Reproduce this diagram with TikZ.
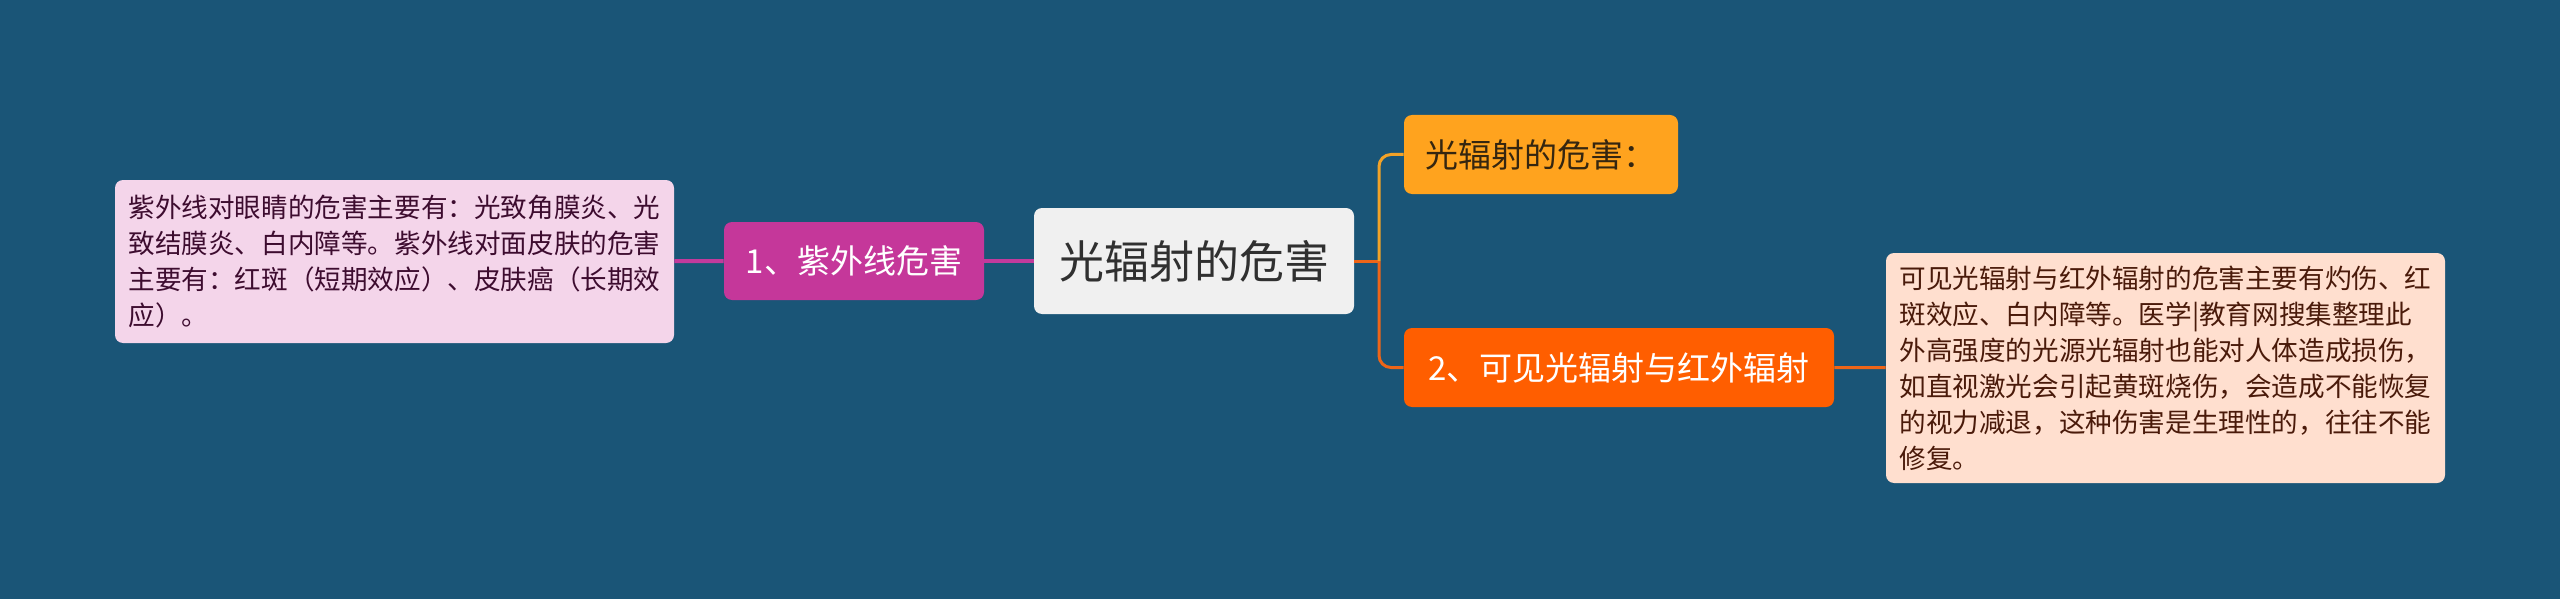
\documentclass[tikz,border=0pt]{standalone}
\usepackage{fontspec}
\setmainfont{Noto Sans CJK SC}
\definecolor{bgblue}{HTML}{1A5577}
\definecolor{rootgray}{HTML}{F0F0F0}
\definecolor{rootink}{HTML}{303030}
\definecolor{uvpurple}{HTML}{C5379A}
\definecolor{uvline}{HTML}{C23A9C}
\definecolor{uvpink}{HTML}{F4D5EA}
\definecolor{uvink}{HTML}{3D0C2F}
\definecolor{harmamber}{HTML}{FFA31E}
\definecolor{harmline}{HTML}{F2A227}
\definecolor{harmink}{HTML}{352610}
\definecolor{visorange}{HTML}{FF5E00}
\definecolor{visline}{HTML}{EE6518}
\definecolor{vispeach}{HTML}{FFDFCF}
\definecolor{visink}{HTML}{4A1A0A}
\tikzstyle{topic}=[rectangle, rounded corners=4pt, inner sep=0pt, align=center]
\tikzstyle{rootbox}=[topic, fill=rootgray, text=rootink, minimum width=160pt, minimum height=53pt, font=\fontsize{22.5}{27}\selectfont]
\tikzstyle{uvbox}=[topic, fill=uvpurple, text=white, minimum width=130pt, minimum height=39pt, font=\fontsize{16.5}{20}\selectfont]
\tikzstyle{harmbox}=[topic, fill=harmamber, text=harmink, minimum width=137pt, minimum height=39.5pt, font=\fontsize{16.5}{20}\selectfont]
\tikzstyle{visbox}=[topic, fill=visorange, text=white, minimum width=215pt, minimum height=39.5pt, font=\fontsize{16.5}{20}\selectfont]
\tikzstyle{leaf}=[topic, align=left, minimum width=279.5pt, font=\fontsize{13.3}{18}\selectfont]
\tikzstyle{uvleaf}=[leaf, fill=uvpink, text=uvink, minimum height=81.5pt]
\tikzstyle{visleaf}=[leaf, fill=vispeach, text=visink, minimum height=115pt]
\begin{document}
\begin{tikzpicture}[x=0.5pt,y=-0.5pt]
  \fill[bgblue] (0,0) rectangle (2560,599);
  \useasboundingbox (0,0) rectangle (2560,599);
  % main topic
  \node[rootbox] (root) at (1194,261) {光辐射的危害};
  % left side
  \node[uvbox] (uv) at (854,261) {1、紫外线危害};
  \node[uvleaf] (uvnote) at (394.5,261.5) {紫外线对眼睛的危害主要有：光致角膜炎、光\\致结膜炎、白内障等。紫外线对面皮肤的危害\\主要有：红斑（短期效应）、皮肤癌（长期效\\应）。};
  % right side
  \node[harmbox] (harm) at (1541,154.5) {光辐射的危害：};
  \node[visbox] (vis) at (1619,367.5) {2、可见光辐射与红外辐射};
  \node[visleaf] (visnote) at (2165.5,368) {可见光辐射与红外辐射的危害主要有灼伤、红\\斑效应、白内障等。医学|教育网搜集整理此\\外高强度的光源光辐射也能对人体造成损伤，\\如直视激光会引起黄斑烧伤，会造成不能恢复\\的视力减退，这种伤害是生理性的，往往不能\\修复。};
  \coordinate (fork) at (1379,261);
  % connectors
  \draw[uvline, line width=2pt] (uvnote) -- (uv);
  \draw[uvline, line width=2pt] (uv) -- (root);
  \draw[visline, line width=1.5pt] (root.east) -- (fork);
  \draw[harmline, line width=1.5pt, rounded corners=6pt] (fork) |- (harm.west);
  \draw[visline, line width=1.5pt, rounded corners=6pt] (fork) |- (vis.west);
  \draw[visline, line width=1.5pt] (vis) -- (visnote);
\end{tikzpicture}
\end{document}
